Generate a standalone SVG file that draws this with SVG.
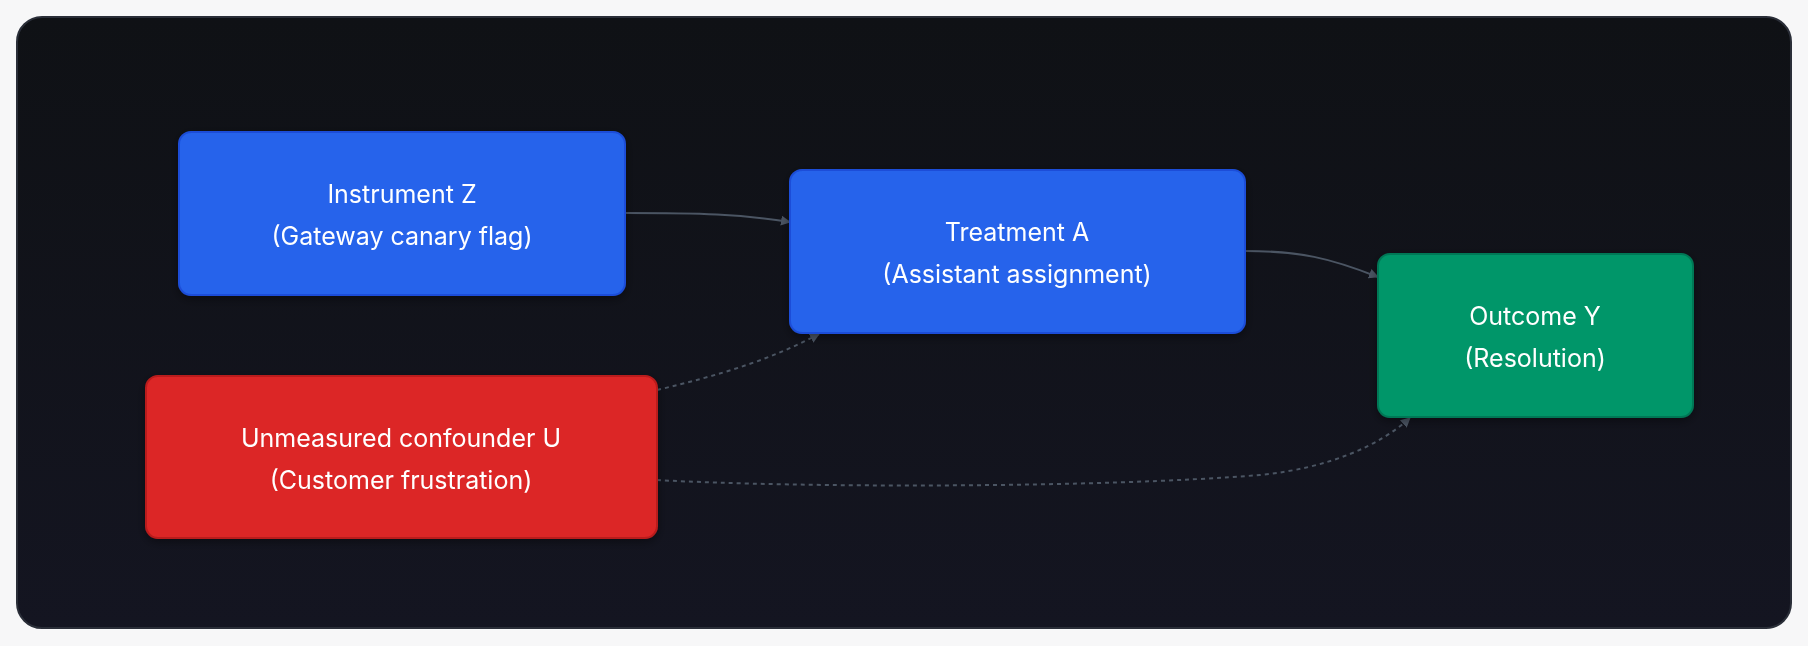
<svg xmlns="http://www.w3.org/2000/svg" width="1808" height="646" viewBox="0 0 1808 646">
<defs>
<linearGradient id="bg" x1="0" y1="0" x2="0" y2="1"><stop offset="0" stop-color="#0f1115"/><stop offset="1" stop-color="#141521"/></linearGradient>
<marker id="arr" viewBox="0 0 10 10" refX="9" refY="5" markerWidth="10" markerHeight="10" markerUnits="userSpaceOnUse" orient="auto"><path d="M0,0 L10,5 L0,10 z" fill="#4b5563"/></marker>
<filter id="sh" x="-10%" y="-10%" width="120%" height="130%"><feDropShadow dx="0" dy="3" stdDeviation="5" flood-color="#000" flood-opacity="0.4"/></filter>
</defs>
<style>
.n{stroke-width:2}
.t{font-family:Inter,"Noto Sans",sans-serif;font-size:25px;fill:#ffffff;text-anchor:middle}
.e{fill:none;stroke:#4b5563;stroke-width:2}
.d{stroke-dasharray:4 4}
</style>
<rect width="1808" height="646" fill="#f7f7f8"/>
<rect x="17" y="17" width="1774" height="611" rx="25" fill="url(#bg)" stroke="#2a2e38" stroke-width="2"/>
<g id="connectors">
<path class="e" d="M625,213 C700,213 740,214 790,222" marker-end="url(#arr)"/>
<path class="e" d="M1245,251 C1300,251 1330,258 1378,277" marker-end="url(#arr)"/>
<path class="e d" d="M657,390 C720,375 770,360 819,334" marker-end="url(#arr)"/>
<path class="e d" d="M657,480 C800,488 1100,488 1260,475 C1330,468 1380,445 1410,418" marker-end="url(#arr)"/>
</g>
<g id="Z" filter="url(#sh)"><rect class="n" x="179" y="132" width="446" height="163" rx="12" fill="#2563eb" stroke="#1d4ed8"/>
<text class="t" x="402" y="203">Instrument Z</text><text class="t" x="402" y="245">(Gateway canary flag)</text></g>
<g id="A" filter="url(#sh)"><rect class="n" x="790" y="170" width="455" height="163" rx="12" fill="#2563eb" stroke="#1d4ed8"/>
<text class="t" x="1017" y="241">Treatment A</text><text class="t" x="1017" y="283">(Assistant assignment)</text></g>
<g id="Y" filter="url(#sh)"><rect class="n" x="1378" y="254" width="315" height="163" rx="12" fill="#059669" stroke="#047857"/>
<text class="t" x="1535" y="325">Outcome Y</text><text class="t" x="1535" y="367">(Resolution)</text></g>
<g id="U" filter="url(#sh)"><rect class="n" x="146" y="376" width="511" height="162" rx="12" fill="#dc2626" stroke="#b91c1c"/>
<text class="t" x="401" y="447">Unmeasured confounder U</text><text class="t" x="401" y="489">(Customer frustration)</text></g>
</svg>
